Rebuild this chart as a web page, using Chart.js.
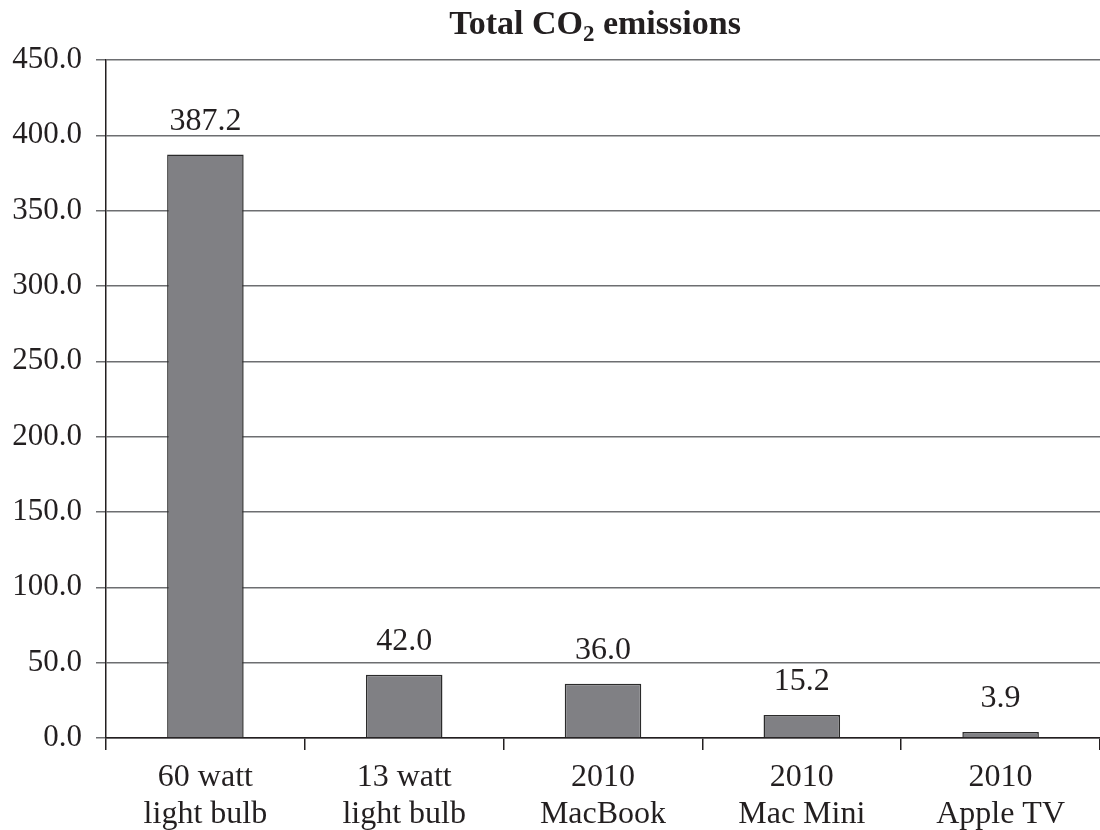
<!DOCTYPE html>
<html lang="en">
<head>
    <meta charset="UTF-8">
    <title>Total CO2 emissions</title>
    <script src="https://cdn.jsdelivr.net/npm/chart.js"></script>
    <style>
        body { margin: 0; background: #fff; }
        #wrap { width: 1100px; height: 830px; }
    </style>
</head>
<body>
    <div id="wrap">
        <canvas id="co2Chart" width="1100" height="830"></canvas>
    </div>

    <script>
        // Dados do gráfico
        const categories = [['60 watt', 'light bulb'], ['13 watt', 'light bulb'], ['2010', 'MacBook'], ['2010', 'Mac Mini'], ['2010', 'Apple TV']];
        const emissions = [387.2, 42.0, 36.0, 15.2, 3.9];
        const yTicks = [0, 50, 100, 150, 200, 250, 300, 350, 400, 450];

        const serif = '"Liberation Serif", "DejaVu Serif", serif';

        // title with subscript, centered over plot area
        const titlePlugin = {
            id: 'subTitle',
            afterDraw(chart) {
                const ctx = chart.ctx;
                const area = chart.chartArea;
                ctx.save();
                ctx.fillStyle = '#231f20';
                ctx.textBaseline = 'alphabetic';
                const bold = 'bold 34px ' + serif;
                const sub = 'bold 23px ' + serif;
                ctx.font = bold;
                const a = 'Total CO';
                const c = ' emissions';
                const wa = ctx.measureText(a).width;
                const wc = ctx.measureText(c).width;
                ctx.font = sub;
                const wb = ctx.measureText('2').width;
                let x = (area.left + area.right) / 2 - (wa + wb + wc) / 2 - 8;
                const y = 34;
                ctx.font = bold;
                ctx.fillText(a, x, y);
                x += wa;
                ctx.font = sub;
                ctx.fillText('2', x, y + 7);
                x += wb;
                ctx.font = bold;
                ctx.fillText(c, x, y);
                ctx.restore();
            }
        };

        // value labels above bars
        const valuePlugin = {
            id: 'valueLabels',
            afterDatasetsDraw(chart) {
                const ctx = chart.ctx;
                const meta = chart.getDatasetMeta(0);
                ctx.save();
                ctx.font = '32px ' + serif;
                ctx.fillStyle = '#231f20';
                ctx.textAlign = 'center';
                ctx.textBaseline = 'alphabetic';
                meta.data.forEach((bar, i) => {
                    ctx.fillText(emissions[i].toFixed(1), bar.x, bar.y - 25);
                });
                ctx.restore();
            }
        };

        const co2Chart = new Chart(document.getElementById('co2Chart'), {
            type: 'bar',
            data: {
                labels: categories,
                datasets: [{
                    data: emissions,
                    backgroundColor: '#808084',
                    borderColor: '#2b2b2b',
                    borderWidth: 1.5,
                    barPercentage: 0.385,
                    categoryPercentage: 1
                }]
            },
            options: {
                responsive: false,
                animation: false,
                layout: { padding: { top: 60, right: -5, bottom: 0, left: 0 } },
                plugins: {
                    legend: { display: false },
                    tooltip: { enabled: false }
                },
                scales: {
                    x: {
                        afterFit(scale) { scale.height = 92; },
                        grid: {
                            offset: true,
                            drawOnChartArea: false,
                            drawTicks: true,
                            tickLength: 12,
                            color: '#231f20',
                            lineWidth: 1.5
                        },
                        border: { color: '#231f20', width: 1.5 },
                        ticks: {
                            font: { family: serif, size: 32, lineHeight: 1.16 },
                            color: '#231f20',
                            padding: 9,
                            maxRotation: 0
                        }
                    },
                    y: {
                        min: 0,
                        max: 450,
                        afterFit(scale) { scale.width = 106; },
                        afterBuildTicks(scale) {
                            scale.ticks = yTicks.map(v => ({ value: v }));
                        },
                        grid: {
                            color: '#6d6e71',
                            lineWidth: 1.5,
                            tickLength: 10,
                            drawTicks: true
                        },
                        border: { color: '#231f20', width: 1.5 },
                        ticks: {
                            font: { family: serif, size: 31 },
                            color: '#231f20',
                            padding: 14,
                            callback: v => Number(v).toFixed(1)
                        }
                    }
                }
            },
            plugins: [titlePlugin, valuePlugin]
        });
    </script>
</body>
</html>
